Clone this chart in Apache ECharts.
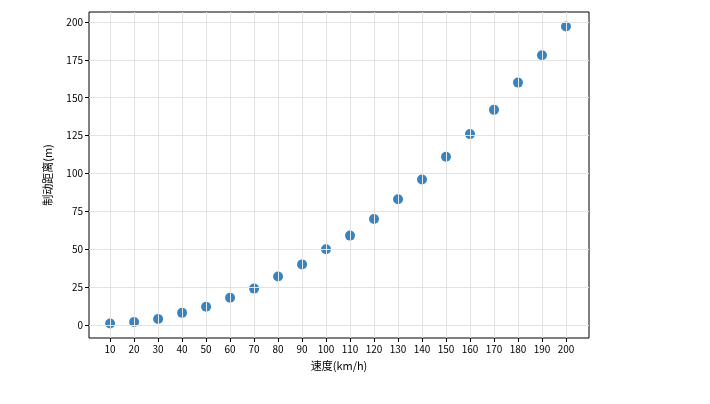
<!DOCTYPE html>
<html><head><meta charset="utf-8">
<script src="https://cdn.jsdelivr.net/npm/echarts@6/dist/echarts.min.js"></script>
<style>html,body{margin:0;background:#fff}#c{width:710px;height:404px}</style>
</head><body><div id="c"></div>
<script>
const speeds = [10,20,30,40,50,60,70,80,90,100,110,120,130,140,150,160,170,180,190,200];
const distances = [1,2,4,8,12,18,24,32,40,50,59,70,83,96,111,126,142,160,178,197];
const xTicks = speeds;
const yTicks = [0,25,50,75,100,125,150,175,200];

const font = '"Noto Sans CJK SC", "DejaVu Sans", sans-serif';
const gridLines = xTicks.map(v => ({ xAxis: v })).concat(yTicks.map(v => ({ yAxis: v })));
const chart = echarts.init(document.getElementById('c'));
chart.setOption({
  animation: false,
  grid: { left: 89, right: 121, top: 12, bottom: 66, show: true, borderColor: '#000', borderWidth: 1 },
  xAxis: {
    type: 'value', min: 1.2, max: 209.6,
    name: '速度(km/h)', nameLocation: 'middle', nameGap: 22,
    nameTextStyle: { color: '#000', fontSize: 11, fontFamily: font },
    axisLine: { show: false, onZero: false },
    axisTick: { show: true, length: 4, lineStyle: { color: '#000' }, customValues: xTicks },
    axisLabel: { color: '#000', fontSize: 10, fontFamily: font, margin: 6, customValues: xTicks },
    splitLine: { show: false }
  },
  yAxis: {
    type: 'value', min: -8.6, max: 206.6,
    name: '制动距离(m)', nameLocation: 'middle', nameGap: 36,
    nameTextStyle: { color: '#000', fontSize: 11, fontFamily: font },
    axisLine: { show: false, onZero: false },
    axisTick: { show: true, length: 4, lineStyle: { color: '#000' }, customValues: yTicks },
    axisLabel: { color: '#000', fontSize: 10, fontFamily: font, margin: 6, customValues: yTicks },
    splitLine: { show: false }
  },
  series: [{
    type: 'scatter', symbolSize: 10,
    itemStyle: { color: '#3a84bd', opacity: 1 },
    data: speeds.map((s, i) => [s, distances[i]]),
    markLine: {
      silent: true, symbol: 'none', label: { show: false }, animation: false,
      lineStyle: { color: '#e3e3e3', type: 'solid', width: 1 },
      emphasis: { disabled: true },
      data: gridLines
    }
  }]
});
</script></body></html>
